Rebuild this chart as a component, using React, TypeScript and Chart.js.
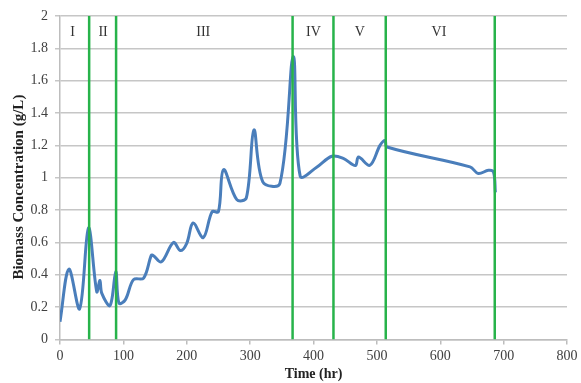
import React, { useEffect, useRef } from "react";
import { Chart, registerables } from "chart.js";

Chart.register(...registerables);

const timeHr = [0, 14, 31, 45, 58, 63, 66, 79, 88, 93, 103, 116, 132, 144, 147, 160, 179, 190, 200, 210, 226, 240, 250, 258, 279, 294, 306, 320, 347, 368, 379, 405, 429, 447, 466, 471, 489, 505, 513, 516, 647, 660, 676, 684, 687];
const biomass = [0.11, 0.435, 0.19, 0.69, 0.295, 0.365, 0.285, 0.21, 0.42, 0.225, 0.245, 0.37, 0.38, 0.52, 0.52, 0.48, 0.6, 0.55, 0.595, 0.72, 0.63, 0.79, 0.79, 1.05, 0.865, 0.875, 1.295, 0.975, 0.965, 1.75, 1.01, 1.065, 1.133, 1.12, 1.075, 1.128, 1.077, 1.2, 1.23, 1.19, 1.067, 1.026, 1.046, 1.036, 0.91];

const phaseBoundaries = [46, 88.5, 367, 431.5, 514, 686];
const phaseLabels = ["I", "II", "III", "IV", "V", "VI"];
const phaseLabelX = [20, 68, 226, 400, 473, 598];
const phaseLabelY = 1.9;

const SERIF = "'Liberation Serif', 'Times New Roman', serif";

const phaseLabelPlugin = {
  id: "phaseLabels",
  afterDatasetsDraw(chart: any) {
    const { ctx, scales } = chart;
    const xs = scales.x;
    const ys = scales.y;
    ctx.save();
    ctx.font = `14px ${SERIF}`;
    ctx.fillStyle = "#333333";
    ctx.textAlign = "center";
    ctx.textBaseline = "middle";
    phaseLabels.forEach((t, i) => {
      ctx.fillText(t, xs.getPixelForValue(phaseLabelX[i]), ys.getPixelForValue(phaseLabelY));
    });
    ctx.restore();
  },
};

export default function App() {
  const ref = useRef<HTMLCanvasElement | null>(null);
  useEffect(() => {
    if (!ref.current) return;
    const greenSets = phaseBoundaries.map((b) => ({
      type: "line" as const,
      data: [
        { x: b, y: 0 },
        { x: b, y: 2 },
      ],
      borderColor: "#27b34a",
      borderWidth: 2.5,
      pointRadius: 0,
      tension: 0,
      order: 0,
    }));
    const chart = new Chart(ref.current, {
      type: "line",
      data: {
        datasets: [
          {
            data: timeHr.map((t, i) => ({ x: t, y: biomass[i] })),
            borderColor: "#4a7ebb",
            borderWidth: 3,
            pointRadius: 0,
            tension: 0.35,
            order: 1,
          } as any,
          ...greenSets,
        ],
      },
      options: {
        animation: false,
        responsive: true,
        maintainAspectRatio: false,
        layout: { padding: { top: 16, right: 14, left: 0, bottom: 0 } },
        plugins: { legend: { display: false }, tooltip: { enabled: false } },
        scales: {
          x: {
            type: "linear",
            min: 0,
            max: 800,
            ticks: {
              stepSize: 100,
              padding: 3,
              color: "#404040",
              font: { family: SERIF, size: 14 },
            },
            grid: { display: true, drawOnChartArea: false, drawTicks: true, tickLength: 5, color: "#bdbdbd", lineWidth: 1.5 },
            border: { display: true, color: "#bdbdbd", width: 1.5 },
            title: {
              display: true,
              text: "Time (hr)",
              color: "#222222",
              font: { family: SERIF, size: 14, weight: "bold" },
              padding: { top: 0, bottom: 0 },
            },
            afterFit(scale: any) {
              scale.height = 43.5;
            },
          },
          y: {
            min: 0,
            max: 2,
            ticks: {
              stepSize: 0.2,
              padding: 7,
              color: "#404040",
              font: { family: SERIF, size: 14 },
              callback: (v: any) => String(Number(Number(v).toFixed(1))),
            },
            grid: { color: "#c6c6c6", lineWidth: 1.5, tickLength: 5 },
            border: { display: true, color: "#bdbdbd", width: 1.5 },
            title: {
              display: true,
              text: "Biomass Concentration (g/L)     ",
              color: "#222222",
              font: { family: SERIF, size: 15, weight: "bold" },
              padding: { top: 10, bottom: 0 },
            },
            afterFit(scale: any) {
              scale.width = 60;
            },
          },
        },
      },
      plugins: [phaseLabelPlugin],
    });
    return () => chart.destroy();
  }, []);
  return (
    <div style={{ position: "absolute", left: 0, top: 0, width: 581, height: 383, background: "#fff" }}>
      <canvas ref={ref} />
    </div>
  );
}
